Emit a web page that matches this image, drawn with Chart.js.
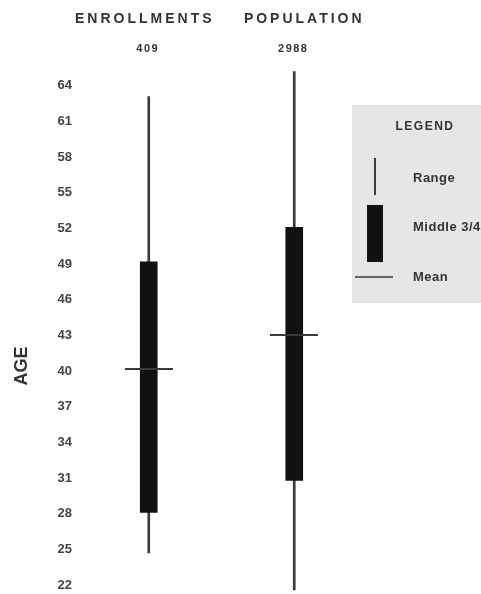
<!DOCTYPE html>
<html>
<head>
<meta charset="utf-8">
<script src="https://cdn.jsdelivr.net/npm/chart.js@4/dist/chart.umd.min.js"></script>
<style>
  html, body { margin: 0; padding: 0; background: #fff; }
  canvas { display: block; }
</style>
</head>
<body>
<canvas id="ageChart" width="481" height="594"></canvas>
<script>
// data
const groups = ["ENROLLMENTS", "POPULATION"];
const counts = ["409", "2988"];
const rangeLow = [24.7, 21.6];
const rangeHigh = [63.1, 65.2];
const middleLow = [28.1, 30.8];
const middleHigh = [49.2, 52.1];
const means = [40.2, 43.0];
const ageTicks = [22, 25, 28, 31, 34, 37, 40, 43, 46, 49, 52, 55, 58, 61, 64];

const ink = "#111";
const grey = "#3a3a3a";
const fam = "'Liberation Sans', Arial, sans-serif";

// the mean tick: a short horizontal dash used as point style
const meanMark = document.createElement("canvas");
meanMark.width = 48;
meanMark.height = 2;
const mctx = meanMark.getContext("2d");
mctx.fillStyle = grey;
mctx.fillRect(0, 0, 48, 2);

// headers, counts, axis title and the legend panel
const decorations = {
  id: "decorations",
  afterDraw(chart) {
    const ctx = chart.ctx;
    const x = chart.scales.x;
    ctx.save();
    ctx.fillStyle = "#333";
    ctx.textAlign = "center";
    ctx.textBaseline = "middle";
    ctx.letterSpacing = "3px";
    ctx.font = "bold 14px " + fam;
    ctx.fillText(groups[0], x.getPixelForValue(0) - 4, 19);
    ctx.fillText(groups[1], x.getPixelForValue(1) + 10, 19);
    ctx.letterSpacing = "1.5px";
    ctx.font = "bold 11px " + fam;
    counts.forEach((c, i) => ctx.fillText(c, x.getPixelForValue(i) - 1, 49));

    // y title
    ctx.letterSpacing = "0px";
    ctx.save();
    ctx.translate(22, 366);
    ctx.rotate(-Math.PI / 2);
    ctx.font = "bold 18px " + fam;
    ctx.fillText("AGE", 0, 0);
    ctx.restore();

    // legend panel
    ctx.fillStyle = "#e6e6e6";
    ctx.fillRect(352, 105, 129, 198);
    ctx.fillStyle = "#333";
    ctx.letterSpacing = "1.5px";
    ctx.font = "bold 12px " + fam;
    ctx.fillText("LEGEND", 425, 127);
    ctx.textAlign = "left";
    ctx.letterSpacing = "0.5px";
    ctx.font = "bold 13px " + fam;
    ctx.fillText("Range", 413, 178);
    ctx.fillText("Middle 3/4", 413, 227);
    ctx.fillText("Mean", 413, 277);
    ctx.strokeStyle = grey;
    ctx.lineWidth = 2;
    ctx.beginPath();
    ctx.moveTo(375, 158); ctx.lineTo(375, 195);
    ctx.stroke();
    ctx.fillStyle = ink;
    ctx.fillRect(367, 205, 16, 57);
    ctx.lineWidth = 1.5;
    ctx.beginPath();
    ctx.moveTo(355, 277); ctx.lineTo(393, 277);
    ctx.stroke();
    ctx.restore();
  }
};

new Chart(document.getElementById("ageChart"), {
  type: "bar",
  data: {
    labels: groups,
    datasets: [
      {
        label: "Range",
        data: groups.map((g, i) => [rangeLow[i], rangeHigh[i]]),
        backgroundColor: grey,
        barThickness: 2,
        grouped: false,
        order: 3
      },
      {
        label: "Middle 3/4",
        data: groups.map((g, i) => [middleLow[i], middleHigh[i]]),
        backgroundColor: ink,
        barThickness: 17,
        grouped: false,
        order: 2
      },
      {
        type: "line",
        label: "Mean",
        data: means,
        showLine: false,
        pointStyle: meanMark,
        pointRadius: 1,
        pointHoverRadius: 1,
        pointBorderWidth: 0,
        order: 1
      }
    ]
  },
  options: {
    responsive: false,
    animation: false,
    devicePixelRatio: 1,
    layout: { padding: { left: 0, right: 114, top: 62, bottom: 3 } },
    plugins: { legend: { display: false }, tooltip: { enabled: false } },
    scales: {
      x: { display: false },
      y: {
        min: 21.5,
        max: 66,
        afterBuildTicks: s => { s.ticks = ageTicks.map(v => ({ value: v })); },
        afterFit: s => { s.width = 76; s.paddingTop = 0; s.paddingBottom = 0; },
        grid: { display: false, drawTicks: false },
        border: { display: false },
        ticks: {
          autoSkip: false,
          padding: 4,
          color: "#444",
          font: { family: fam, size: 13, weight: "bold" }
        }
      }
    }
  },
  plugins: [decorations]
});
</script>
</body>
</html>
